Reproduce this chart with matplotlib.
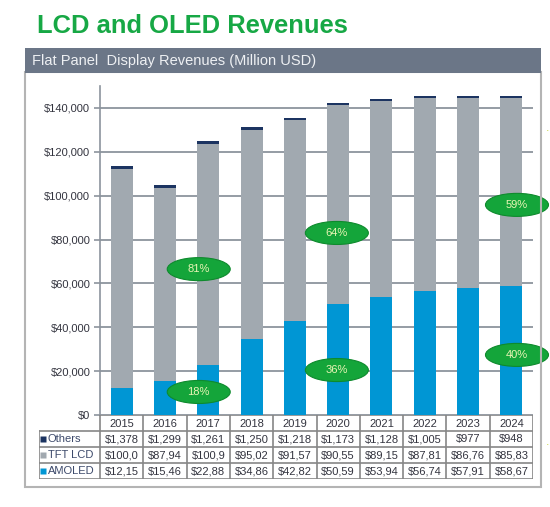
import matplotlib
matplotlib.use('Agg')
import matplotlib.pyplot as plt
from matplotlib.patches import Ellipse, Rectangle
import numpy as np

plt.rcParams['font.family'] = ['Liberation Sans', 'DejaVu Sans']

years = [2015, 2016, 2017, 2018, 2019, 2020, 2021, 2022, 2023, 2024]
others = [1378, 1299, 1261, 1250, 1218, 1173, 1128, 1005, 977, 948]
tft_lcd = [100000, 87940, 100900, 95020, 91570, 90550, 89150, 87810, 86760, 85830]
amoled = [12150, 15460, 22880, 34860, 42820, 50590, 53940, 56740, 57910, 58670]
series_names = ['Others', 'TFT LCD', 'AMOLED']
share_years = [2017, 2020, 2024]

c_others = '#1c3461'
c_lcd = '#a1a9b0'
c_amoled = '#0096d4'
c_grid = '#8c949d'
c_text = '#33343f'

W, H = 550, 507
fig = plt.figure(figsize=(W / 100, H / 100), dpi=100)


def fx(px):
    return px / W


def fy(py):
    return 1 - py / H


# frame and header bar
fig.patches.append(Rectangle((fx(25), fy(487)), fx(541) - fx(25), fy(72) - fy(487),
                             transform=fig.transFigure, facecolor='none',
                             edgecolor='#b4b4b4', lw=1.5, zorder=0))
fig.patches.append(Rectangle((fx(25), fy(73)), fx(541) - fx(25), fy(48) - fy(73),
                             transform=fig.transFigure, facecolor='#6b7687',
                             edgecolor='none', zorder=1))
fig.text(fx(37), fy(26), 'LCD and OLED Revenues', fontsize=18.4, fontweight='bold',
         color='#17a845', va='center', ha='left')
fig.text(fx(32), fy(61), 'Flat Panel  Display Revenues (Million USD)', fontsize=10.5,
         color='#eef0f3', va='center', ha='left')
for yy in [128, 442]:
    fig.text(fx(548), fy(yy), '.', fontsize=9, color='#c9d84a', ha='center', va='center')

# main chart
ax = fig.add_axes([fx(100), fy(415), fx(533) - fx(100), fy(86) - fy(415)])
x = np.arange(len(years))
amoled_a = np.array(amoled)
lcd_a = np.array(tft_lcd)
others_a = np.array(others)
bw = 0.51
ax.bar(x, amoled_a, bw, color=c_amoled, zorder=3)
ax.bar(x, lcd_a, bw, bottom=amoled_a, color=c_lcd, zorder=3)
ax.bar(x, others_a, bw, bottom=amoled_a + lcd_a, color=c_others, zorder=3)

ax.set_xlim(-0.5, len(years) - 0.5)
ax.set_ylim(0, 150000)
ax.set_yticks(np.arange(0, 140001, 20000))
ax.yaxis.set_major_formatter(matplotlib.ticker.FuncFormatter(lambda v, p: '${:,.0f}'.format(v)))
ax.set_xticks([])
ax.tick_params(axis='y', length=4, width=1.2, color=c_grid, labelsize=8,
               labelcolor=c_text, pad=3)
ax.yaxis.grid(True, color=c_grid, lw=1.3)
ax.set_axisbelow(True)
for s in ['top', 'right', 'bottom']:
    ax.spines[s].set_visible(False)
ax.spines['left'].set_color(c_grid)
ax.spines['left'].set_linewidth(1.2)
ax.patch.set_alpha(0)

# share ellipses
share_pos = {2017: (1.78, 66500, 10500), 2020: (4.97, 83000, 20500), 2024: (9.13, 95800, 27400)}
totals = amoled_a + lcd_a + others_a
for yr in share_years:
    i = years.index(yr)
    xc, y_lcd, y_am = share_pos[yr]
    for yc, val in [(y_lcd, lcd_a[i]), (y_am, amoled_a[i])]:
        ax.add_patch(Ellipse((xc, yc), 1.455, 10500, facecolor='#14a53a',
                             edgecolor='#0e8a2d', lw=0.8, zorder=5, clip_on=False))
        ax.text(xc, yc, '{:.0f}%'.format(round(val / totals[i] * 100 + 1e-9)),
                ha='center', va='center', fontsize=8, color='#e9f5b5', zorder=6)

# data table
tab = fig.add_axes([fx(39), fy(479), fx(533) - fx(39), fy(415) - fy(479)])
left = -0.5 - 61 / 43.3
tab.set_xlim(left, len(years) - 0.5)
tab.set_ylim(4, 0)
tab.axis('off')
c_tab = '#868686'
tab.plot([-0.5, len(years) - 0.5], [0, 0], color=c_tab, lw=1.2)
for r in range(1, 5):
    tab.plot([left, len(years) - 0.5], [r, r], color=c_tab, lw=1.2)
tab.plot([left, left], [1, 4], color=c_tab, lw=1.2)
for k in range(len(years) + 1):
    tab.plot([k - 0.5, k - 0.5], [0, 4], color=c_tab, lw=1.2)
for i, yr in enumerate(years):
    tab.text(i, 0.55, str(yr), ha='center', va='center', fontsize=8, color=c_text)
rows = [(others, c_others), (tft_lcd, c_lcd), (amoled, c_amoled)]
for r, (name, (vals, col)) in enumerate(zip(series_names, rows), start=1):
    tab.plot(left + 0.1, r + 0.5, marker='s', ms=4, color=col, mec='none')
    tab.text(left + 0.2, r + 0.53, name, ha='left', va='center', fontsize=8, color='#3d4a6b')
    for i, v in enumerate(vals):
        tab.text(i, r + 0.53, '${:,}'.format(v)[:6], ha='center', va='center',
                 fontsize=8, color=c_text)

fig.savefig('out.png', dpi=100)
